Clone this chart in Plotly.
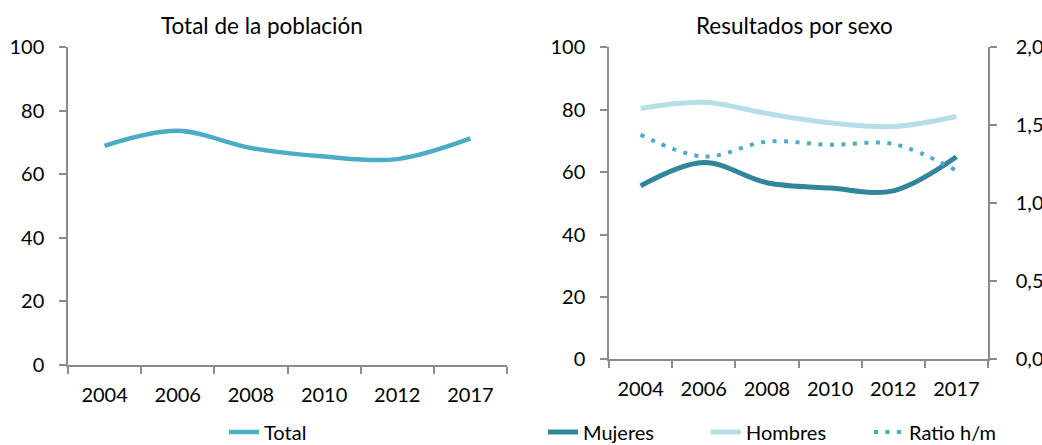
import plotly.graph_objects as go

# data
years = ["2004", "2006", "2008", "2010", "2012", "2017"]
total = [69.0, 73.7, 68.3, 65.6, 64.8, 71.3]
mujeres = [55.6, 63.1, 56.6, 54.9, 54.0, 64.9]
hombres = [80.4, 82.4, 78.8, 75.8, 74.6, 77.8]
ratio_hm = [1.44, 1.30, 1.395, 1.375, 1.38, 1.21]

y_ticks = [0, 20, 40, 60, 80, 100]
ratio_ticks = [0.0, 0.5, 1.0, 1.5, 2.0]

W, H = 1042, 445
FONT = "Lato"
FS = 20
AXIS_COLOR = "#8c8c8c"
C_TOTAL = "#4bacc6"
C_MUJ = "#31859c"
C_HOM = "#b7dee8"
C_RATIO = "#4bacc6"


def px(x):
  return x / W


def py(y):
  return (H - y) / H


fig = go.Figure()

fig.add_trace(go.Scatter(
  x=years, y=total, name="Total", mode="lines", showlegend=True,
  line=dict(color=C_TOTAL, width=4.5, shape="spline", smoothing=1),
  xaxis="x", yaxis="y", legend="legend",
))
fig.add_trace(go.Scatter(
  x=years, y=mujeres, name="Mujeres", mode="lines", showlegend=True,
  line=dict(color=C_MUJ, width=5, shape="spline", smoothing=1),
  xaxis="x2", yaxis="y2", legend="legend2",
))
fig.add_trace(go.Scatter(
  x=years, y=hombres, name="Hombres", mode="lines", showlegend=True,
  line=dict(color=C_HOM, width=5, shape="spline", smoothing=1),
  xaxis="x2", yaxis="y2", legend="legend2",
))
fig.add_trace(go.Scatter(
  x=years, y=ratio_hm, name="Ratio h/m", mode="lines", showlegend=True,
  line=dict(color=C_RATIO, width=4, shape="spline", smoothing=1, dash="4px,7.5px"),
  xaxis="x2", yaxis="y3", legend="legend2",
))

x_common = dict(
  type="category", range=[-0.5, 5.5], tickson="boundaries",
  ticks="outside", ticklen=7, tickcolor=AXIS_COLOR, tickwidth=1.5,
  showline=True, linecolor=AXIS_COLOR, linewidth=1.5,
  showgrid=False, zeroline=False, ticklabelstandoff=11, automargin=False,
  tickfont=dict(family=FONT, size=FS, color="#000000"),
)
y_common = dict(
  range=[0, 100], tickvals=y_ticks,
  ticks="outside", ticklen=7, tickcolor=AXIS_COLOR, tickwidth=1.5,
  showline=True, linecolor=AXIS_COLOR, linewidth=1.5,
  showgrid=False, zeroline=False, ticklabelstandoff=11, automargin=False,
  tickfont=dict(family=FONT, size=FS, color="#000000"),
)

fig.update_layout(
  width=W, height=H,
  margin=dict(l=0, r=0, t=0, b=0, autoexpand=False),
  paper_bgcolor="white", plot_bgcolor="white",
  separators=",.",
  showlegend=True,
  font=dict(family=FONT, size=FS, color="#000000"),
  xaxis=dict(domain=[px(68), px(507)], anchor="y", **x_common),
  yaxis=dict(domain=[py(365), py(47.3)], anchor="x", **y_common),
  xaxis2=dict(domain=[px(609), px(988)], anchor="y2", **x_common),
  yaxis2=dict(domain=[py(359.3), py(47.3)], anchor="x2", **y_common),
  yaxis3=dict(
    overlaying="y2", side="right", anchor="x2",
    range=[0, 2], tickvals=ratio_ticks, tickformat=".1f",
    ticks="outside", ticklen=7, tickcolor=AXIS_COLOR, tickwidth=1.5,
    showline=True, linecolor=AXIS_COLOR, linewidth=1.5,
    showgrid=False, zeroline=False, ticklabelstandoff=15, automargin=False,
    tickfont=dict(family=FONT, size=FS, color="#000000"),
  ),
  legend=dict(
    orientation="h", x=px(268), xanchor="center", y=py(432), yanchor="middle",
    font=dict(family=FONT, size=FS), bgcolor="rgba(0,0,0,0)",
  ),
  legend2=dict(
    orientation="h", x=px(543), xanchor="left", y=py(432), yanchor="middle",
    font=dict(family=FONT, size=FS), bgcolor="rgba(0,0,0,0)",
    entrywidth=118,
  ),
  annotations=[
    dict(text="Total de la población", x=px(262), y=py(25), xref="paper", yref="paper",
         showarrow=False, xanchor="center", yanchor="middle",
         font=dict(family=FONT, size=22.5, color="#000000")),
    dict(text="Resultados por sexo", x=px(794), y=py(25), xref="paper", yref="paper",
         showarrow=False, xanchor="center", yanchor="middle",
         font=dict(family=FONT, size=22.5, color="#000000")),
  ],
)

# drop the browser's default body margin so the figure sits at the page corner
fig.write_html(
  "out.html",
  config={"displayModeBar": False},
  post_script="document.body.style.margin='0';",
)
